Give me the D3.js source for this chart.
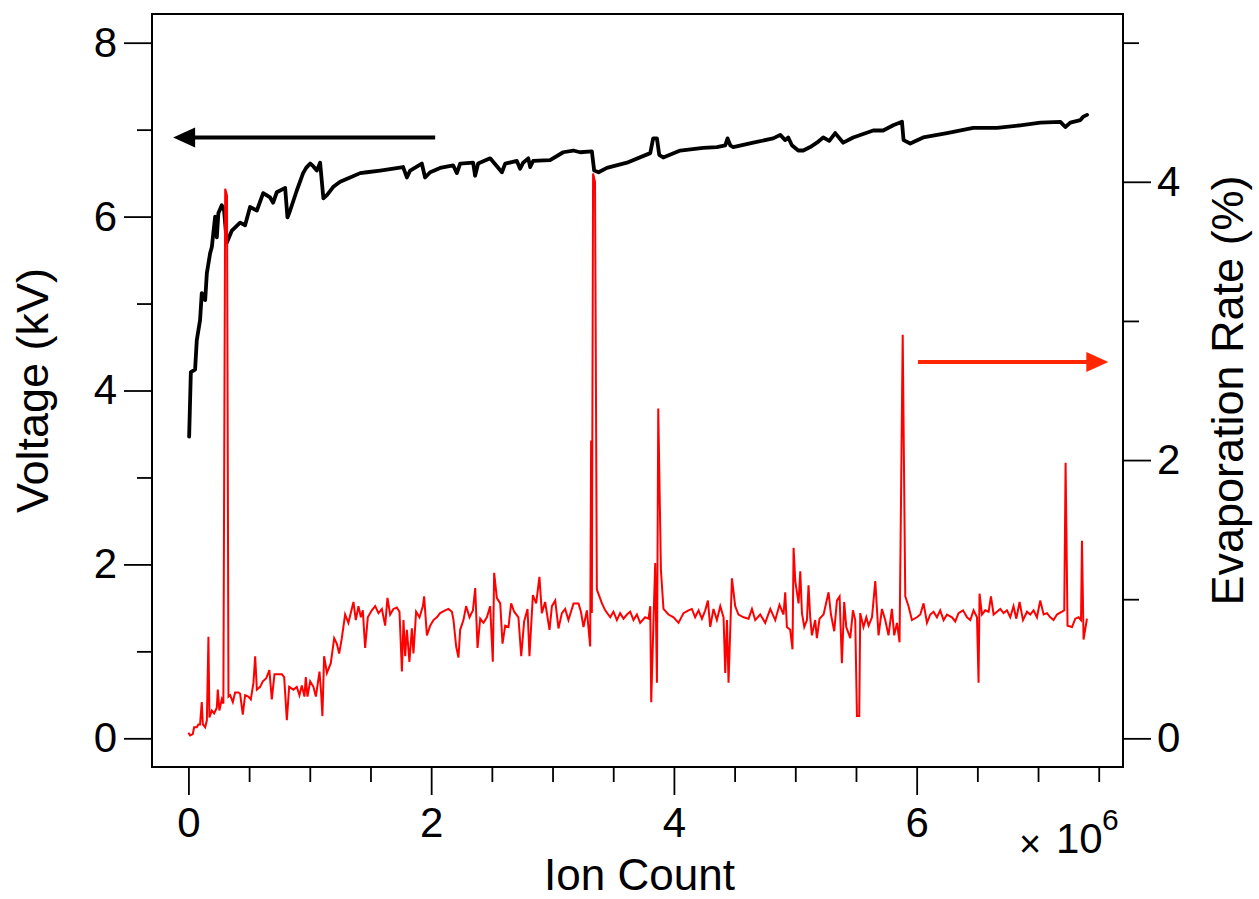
<!DOCTYPE html>
<html><head><meta charset="utf-8">
<script src="https://cdn.jsdelivr.net/npm/d3@7"></script>
<style>body{margin:0;background:#fff;} svg{display:block;}</style>
</head><body>
<svg id="chart" width="1259" height="899"></svg>
<script>
// Ion count in units of 10^6
const voltageSeries = [[0.006,3.47],[0.020,4.21],[0.055,4.24],[0.069,4.58],[0.096,4.81],[0.110,5.12],[0.138,5.04],[0.152,5.35],[0.179,5.58],[0.193,5.65],[0.220,6.00],[0.234,5.76],[0.247,6.04],[0.275,6.13],[0.294,6.07],[0.316,5.70],[0.358,5.84],[0.426,5.93],[0.467,5.90],[0.508,6.11],[0.564,6.07],[0.616,6.27],[0.673,6.22],[0.698,6.16],[0.728,6.28],[0.797,6.33],[0.816,5.99],[0.838,6.07],[0.893,6.30],[0.945,6.50],[0.970,6.56],[1.003,6.61],[1.028,6.58],[1.058,6.53],[1.085,6.62],[1.112,6.21],[1.143,6.25],[1.192,6.34],[1.250,6.40],[1.332,6.45],[1.415,6.50],[1.470,6.51],[1.580,6.53],[1.769,6.57],[1.800,6.45],[1.827,6.53],[1.923,6.61],[1.950,6.45],[1.992,6.51],[2.074,6.56],[2.181,6.59],[2.212,6.50],[2.239,6.61],[2.346,6.62],[2.362,6.47],[2.387,6.61],[2.486,6.67],[2.583,6.51],[2.610,6.61],[2.706,6.64],[2.733,6.55],[2.758,6.62],[2.800,6.67],[2.816,6.57],[2.840,6.64],[2.980,6.65],[3.088,6.74],[3.170,6.76],[3.228,6.74],[3.324,6.75],[3.343,6.53],[3.379,6.51],[3.448,6.56],[3.613,6.62],[3.805,6.73],[3.829,6.90],[3.860,6.90],[3.879,6.71],[3.912,6.68],[4.052,6.76],[4.241,6.79],[4.354,6.80],[4.423,6.82],[4.442,6.90],[4.464,6.82],[4.489,6.80],[4.654,6.85],[4.818,6.90],[4.876,6.94],[4.917,6.88],[4.942,6.91],[4.972,6.82],[5.024,6.76],[5.066,6.76],[5.123,6.80],[5.178,6.85],[5.230,6.91],[5.280,6.87],[5.329,6.96],[5.395,6.85],[5.477,6.91],[5.642,6.99],[5.724,6.99],[5.807,7.05],[5.879,7.09],[5.892,6.88],[5.947,6.84],[6.054,6.91],[6.250,6.96],[6.466,7.02],[6.662,7.02],[6.854,7.05],[7.019,7.08],[7.184,7.09],[7.225,7.03],[7.266,7.08],[7.349,7.11],[7.374,7.15],[7.404,7.17]];

const evapSeries = [[0.000,0.04],[0.014,0.02],[0.036,0.03],[0.047,0.08],[0.069,0.08],[0.082,0.10],[0.096,0.10],[0.110,0.26],[0.119,0.10],[0.138,0.08],[0.152,0.13],[0.165,0.73],[0.173,0.15],[0.193,0.20],[0.212,0.18],[0.234,0.22],[0.242,0.35],[0.255,0.20],[0.275,0.28],[0.288,0.25],[0.303,3.95],[0.318,3.90],[0.330,0.30],[0.344,0.31],[0.366,0.26],[0.385,0.33],[0.412,0.33],[0.426,0.32],[0.448,0.17],[0.467,0.31],[0.494,0.30],[0.514,0.28],[0.536,0.40],[0.550,0.59],[0.564,0.35],[0.591,0.37],[0.613,0.41],[0.640,0.43],[0.667,0.49],[0.687,0.28],[0.709,0.46],[0.742,0.46],[0.770,0.46],[0.789,0.44],[0.811,0.13],[0.830,0.37],[0.865,0.35],[0.893,0.37],[0.915,0.31],[0.934,0.38],[0.956,0.30],[0.967,0.44],[0.981,0.30],[1.003,0.41],[1.030,0.37],[1.050,0.30],[1.080,0.48],[1.094,0.32],[1.104,0.16],[1.118,0.59],[1.141,0.47],[1.173,0.54],[1.201,0.72],[1.223,0.68],[1.242,0.61],[1.264,0.72],[1.291,0.89],[1.318,0.83],[1.360,0.98],[1.379,0.85],[1.401,0.95],[1.421,0.87],[1.437,0.92],[1.456,0.65],[1.478,0.87],[1.511,0.92],[1.539,0.95],[1.566,0.90],[1.594,0.93],[1.621,0.81],[1.640,1.01],[1.662,0.89],[1.689,0.93],[1.717,0.94],[1.739,0.91],[1.759,0.48],[1.772,0.85],[1.786,0.59],[1.800,0.78],[1.821,0.55],[1.841,0.79],[1.854,0.61],[1.876,0.91],[1.904,0.87],[1.932,0.95],[1.942,1.02],[1.965,0.74],[1.992,0.81],[2.019,0.85],[2.047,0.87],[2.074,0.90],[2.115,0.92],[2.143,0.93],[2.171,0.91],[2.184,0.85],[2.206,0.66],[2.225,0.58],[2.239,0.78],[2.266,0.85],[2.288,0.95],[2.316,0.87],[2.344,0.92],[2.363,1.08],[2.382,0.65],[2.404,0.86],[2.431,0.83],[2.459,0.87],[2.486,0.95],[2.508,0.55],[2.519,1.19],[2.541,1.01],[2.569,0.97],[2.588,0.68],[2.610,0.81],[2.637,0.80],[2.659,0.97],[2.684,0.91],[2.719,0.87],[2.742,0.59],[2.766,0.84],[2.794,0.93],[2.810,0.59],[2.838,1.03],[2.865,0.97],[2.892,1.16],[2.912,0.90],[2.939,0.98],[2.975,0.78],[2.995,0.95],[3.022,0.99],[3.049,0.79],[3.077,0.90],[3.104,0.93],[3.131,0.85],[3.173,0.97],[3.214,0.97],[3.234,0.91],[3.255,0.80],[3.283,0.92],[3.310,0.66],[3.318,2.14],[3.324,0.90],[3.334,4.06],[3.350,4.00],[3.365,1.07],[3.407,0.97],[3.434,0.92],[3.475,0.87],[3.502,0.91],[3.530,0.85],[3.557,0.90],[3.585,0.86],[3.613,0.89],[3.640,0.91],[3.667,0.85],[3.695,0.89],[3.722,0.83],[3.763,0.87],[3.791,0.86],[3.805,0.95],[3.813,0.26],[3.832,0.85],[3.846,1.26],[3.860,0.40],[3.871,2.37],[3.893,1.21],[3.914,0.93],[3.955,0.89],[3.997,0.87],[4.038,0.83],[4.079,0.90],[4.120,0.92],[4.148,0.93],[4.175,0.87],[4.203,0.92],[4.231,0.86],[4.258,0.92],[4.280,0.99],[4.299,0.80],[4.326,0.93],[4.354,0.85],[4.382,0.95],[4.409,0.87],[4.423,0.47],[4.437,0.85],[4.450,0.40],[4.478,1.15],[4.505,0.95],[4.532,0.89],[4.574,0.87],[4.615,0.86],[4.643,0.93],[4.670,0.85],[4.711,0.89],[4.752,0.83],[4.794,0.93],[4.835,0.85],[4.870,0.96],[4.903,0.89],[4.917,1.05],[4.931,0.80],[4.958,0.78],[4.977,0.64],[4.986,1.37],[5.000,1.13],[5.027,0.97],[5.041,1.20],[5.055,0.90],[5.074,0.80],[5.096,0.85],[5.109,1.10],[5.123,0.87],[5.137,0.74],[5.164,0.85],[5.178,0.72],[5.200,0.86],[5.233,0.89],[5.274,1.05],[5.294,0.89],[5.321,0.77],[5.343,0.99],[5.365,1.02],[5.384,0.54],[5.403,0.98],[5.420,0.80],[5.453,0.72],[5.475,0.92],[5.494,0.85],[5.508,0.16],[5.527,0.16],[5.535,0.90],[5.562,0.80],[5.585,0.87],[5.604,0.81],[5.632,0.87],[5.659,1.13],[5.686,0.74],[5.714,0.93],[5.741,0.85],[5.768,0.74],[5.796,0.93],[5.815,0.74],[5.838,0.83],[5.859,0.69],[5.885,2.90],[5.906,1.02],[5.933,0.95],[5.961,0.85],[6.002,0.87],[6.030,0.89],[6.057,0.97],[6.085,0.83],[6.112,0.89],[6.139,0.91],[6.167,0.87],[6.194,0.92],[6.222,0.85],[6.250,0.89],[6.291,0.87],[6.318,0.84],[6.345,0.90],[6.382,0.92],[6.415,0.87],[6.442,0.85],[6.469,0.92],[6.497,0.87],[6.510,0.40],[6.518,1.04],[6.538,0.89],[6.565,0.92],[6.593,0.91],[6.612,1.02],[6.634,0.89],[6.662,0.91],[6.689,0.93],[6.716,0.90],[6.744,0.92],[6.771,0.87],[6.798,0.95],[6.821,0.86],[6.848,0.98],[6.876,0.85],[6.909,0.91],[6.936,0.89],[6.963,0.92],[6.991,0.87],[7.018,0.99],[7.046,0.89],[7.074,0.90],[7.101,0.87],[7.128,0.85],[7.156,0.89],[7.197,0.91],[7.216,0.92],[7.227,1.98],[7.243,0.81],[7.280,0.80],[7.307,0.86],[7.334,0.87],[7.354,0.85],[7.362,1.42],[7.375,0.71],[7.403,0.86]];

const xMajorTicks = [0, 2, 4, 6];
const xMinorTicks = [0.5, 1, 1.5, 2.5, 3, 3.5, 4.5, 5, 5.5, 6.5, 7, 7.5];
const yLeftMajorTicks = [0, 2, 4, 6, 8];
const yLeftMinorTicks = [1, 3, 5, 7];
const yRightMajorTicks = [0, 2, 4];
const yRightMinorTicks = [1, 3, 5];
const xTitle = "Ion Count";
const yLeftTitle = "Voltage (kV)";
const yRightTitle = "Evaporation Rate (%)";
// annotation arrows: [xFrom, xTo, y] in data units
const leftArrow = [2.033, -0.126, 6.91];
const rightArrow = [6.011, 7.579, 2.705];

const svg = d3.select("#chart");
const FONT = "'Liberation Sans', Arial, Helvetica, sans-serif";
const L = 152, R = 1123, T = 14, B = 767;

const x = d3.scaleLinear().domain([-0.3, 7.7]).range([L, R]);
const yL = d3.scaleLinear().domain([-0.33, 8.33]).range([B, T]);
const yR = d3.scaleLinear().domain([-0.206, 5.206]).range([B, T]);

function styleAxis(g, size) {
  g.select(".domain").remove();
  g.selectAll(".tick line").attr("stroke", "#000").attr("stroke-width", 1.8);
  g.selectAll(".tick text").attr("font-family", FONT).attr("font-size", size).attr("fill", "#000");
}

// bottom axis
svg.append("g").attr("transform", `translate(0,${B})`)
  .call(d3.axisBottom(x).tickValues(xMajorTicks).tickSize(28).tickPadding(12).tickFormat(d3.format("d")))
  .call(g => styleAxis(g, 42));
svg.append("g").attr("transform", `translate(0,${B})`)
  .call(d3.axisBottom(x).tickValues(xMinorTicks).tickSize(15).tickFormat(""))
  .call(g => styleAxis(g, 42));

// left axis
svg.append("g").attr("transform", `translate(${L},0)`)
  .call(d3.axisLeft(yL).tickValues(yLeftMajorTicks).tickSize(28).tickPadding(7).tickFormat(d3.format("d")))
  .call(g => styleAxis(g, 42));
svg.append("g").attr("transform", `translate(${L},0)`)
  .call(d3.axisLeft(yL).tickValues(yLeftMinorTicks).tickSize(15).tickFormat(""))
  .call(g => styleAxis(g, 42));

// right axis
svg.append("g").attr("transform", `translate(${R},0)`)
  .call(d3.axisRight(yR).tickValues(yRightMajorTicks).tickSize(28).tickPadding(6).tickFormat(d3.format("d")))
  .call(g => styleAxis(g, 42));
svg.append("g").attr("transform", `translate(${R},0)`)
  .call(d3.axisRight(yR).tickValues(yRightMinorTicks).tickSize(16).tickFormat(""))
  .call(g => styleAxis(g, 42));

// frame
svg.append("rect").attr("x", L).attr("y", T).attr("width", R - L).attr("height", B - T)
  .attr("fill", "none").attr("stroke", "#000").attr("stroke-width", 2);

// clip
svg.append("clipPath").attr("id", "clip").append("rect")
  .attr("x", L).attr("y", T).attr("width", R - L).attr("height", B - T);

const plot = svg.append("g").attr("clip-path", "url(#clip)");

plot.append("path").datum(voltageSeries)
  .attr("d", d3.line().x(d => x(d[0])).y(d => yL(d[1])))
  .attr("fill", "none").attr("stroke", "#000").attr("stroke-width", 3.8)
  .attr("stroke-linejoin", "round").attr("stroke-linecap", "round");

plot.append("path").datum(evapSeries)
  .attr("d", d3.line().x(d => x(d[0])).y(d => yR(d[1])))
  .attr("fill", "none").attr("stroke", "#ff0000").attr("stroke-width", 2)
  .attr("stroke-linejoin", "miter");

// arrows
function arrow(x1, x2, yy, color, w) {
  const dir = Math.sign(x2 - x1);
  const headLen = 22, half = 10;
  svg.append("line").attr("x1", x1).attr("x2", x2 - dir * headLen * 0.8).attr("y1", yy).attr("y2", yy)
    .attr("stroke", color).attr("stroke-width", w);
  svg.append("path")
    .attr("d", `M${x2},${yy} L${x2 - dir * headLen},${yy - half} L${x2 - dir * headLen},${yy + half} Z`)
    .attr("fill", color);
}
arrow(x(leftArrow[0]), x(leftArrow[1]), yL(leftArrow[2]), "#000", 4);
arrow(x(rightArrow[0]), x(rightArrow[1]), yR(rightArrow[2]), "#ff2600", 4);

// titles
svg.append("text").attr("x", (L + R) / 2 + 2).attr("y", 890).attr("text-anchor", "middle")
  .attr("font-family", FONT).attr("font-size", 44).text(xTitle);
svg.append("text").attr("transform", `translate(48,${(T + B) / 2}) rotate(-90)`).attr("text-anchor", "middle")
  .attr("font-family", FONT).attr("font-size", 45).text(yLeftTitle);
svg.append("text").attr("transform", `translate(1243,${(T + B) / 2}) rotate(-90)`).attr("text-anchor", "middle")
  .attr("font-family", FONT).attr("font-size", 45).text(yRightTitle);

// x10^6 multiplier
svg.append("text").attr("x", 1019).attr("y", 857).attr("font-family", FONT).attr("font-size", 38).text("\u00d7");
svg.append("text").attr("x", 1056).attr("y", 853).attr("font-family", FONT).attr("font-size", 42).text("10");
svg.append("text").attr("x", 1102).attr("y", 830).attr("font-family", FONT).attr("font-size", 30).text("6");
</script>
</body></html>
